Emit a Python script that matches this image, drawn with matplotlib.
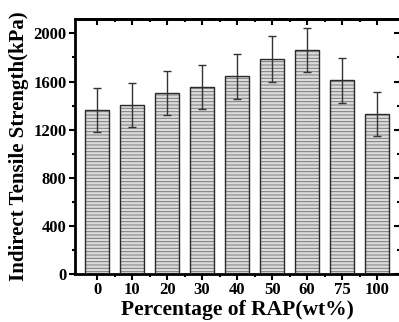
import numpy as np
import matplotlib
matplotlib.use('Agg')
import matplotlib.pyplot as plt
from matplotlib.ticker import MultipleLocator

# data
rap = ['0', '10', '20', '30', '40', '50', '60', '75', '100']
its = [1362, 1405, 1508, 1558, 1645, 1787, 1866, 1610, 1333]
err = [185, 185, 183, 183, 188, 188, 183, 187, 183]

plt.rcParams['font.family'] = ['Liberation Serif', 'DejaVu Serif']
plt.rcParams['font.weight'] = 'bold'
plt.rcParams['hatch.linewidth'] = 0.7
plt.rcParams['hatch.color'] = '#7a7a7a'

fig = plt.figure(figsize=(3.99, 3.22), dpi=100)
ax = fig.add_axes([0.188, 0.149, 0.815, 0.792])

x = np.arange(len(rap))
bw = 0.69

# hatched fill, then the outline on top
ax.bar(x, its, bw, color='#dcdcdc', edgecolor='#7a7a7a', linewidth=0,
       hatch='-----', zorder=2)
ax.bar(x, its, bw, fill=False, edgecolor='#2a2a2a', linewidth=1.0, zorder=3)
ax.errorbar(x, its, yerr=err, fmt='none', ecolor='#333333', elinewidth=1.0,
            capsize=2.8, capthick=1.0, zorder=4)

ax.set_xlim(-0.63, 8.66)
ax.set_ylim(0, 2120)
ax.set_xticks(x)
ax.set_xticklabels(rap)
ax.set_xticks(x[:-1] + 0.5, minor=True)
ax.yaxis.set_major_locator(MultipleLocator(400))
ax.yaxis.set_minor_locator(MultipleLocator(200))

ax.tick_params(axis='both', which='both', direction='out', labelsize=12,
               width=1.5, pad=2)
ax.tick_params(which='major', length=4)
ax.tick_params(which='minor', length=2.5)
for sp in ax.spines.values():
    sp.set_linewidth(2.0)

# mirrored ticks on top and right, pointing inward
top = ax.secondary_xaxis('top')
top.set_xticks(x)
top.set_xticks(x[:-1] + 0.5, minor=True)
top.tick_params(which='both', direction='in', labeltop=False, width=1.5)
top.tick_params(which='major', length=4)
top.tick_params(which='minor', length=2.5)
right = ax.secondary_yaxis('right')
right.yaxis.set_major_locator(MultipleLocator(400))
right.yaxis.set_minor_locator(MultipleLocator(200))
right.tick_params(which='both', direction='in', labelright=False, width=1.5)
right.tick_params(which='major', length=4)
right.tick_params(which='minor', length=2.5)
for s in (top, right):
    for sp in s.spines.values():
        sp.set_linewidth(2.0)

ax.set_xlabel('Percentage of RAP(wt%)', fontsize=15.5, fontweight='bold', labelpad=1)
ax.set_ylabel('Indirect Tensile Strength(kPa)', fontsize=15, fontweight='bold',
              labelpad=3)

fig.savefig('out.png', dpi=100)
